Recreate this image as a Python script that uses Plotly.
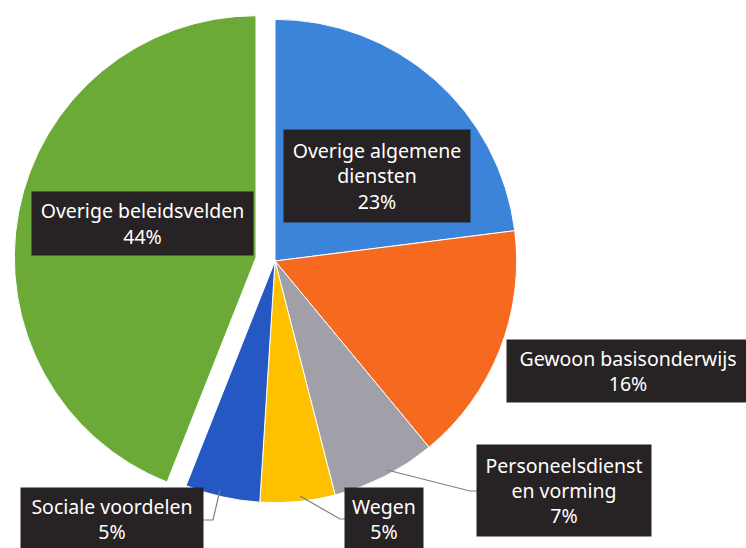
import plotly.graph_objects as go

# ---- data ----
categories = ["Overige algemene diensten", "Gewoon basisonderwijs", "Personeelsdienst en vorming",
              "Wegen", "Sociale voordelen", "Overige beleidsvelden"]
label_text = ["Overige algemene<br>diensten", "Gewoon basisonderwijs", "Personeelsdienst<br>en vorming",
              "Wegen", "Sociale voordelen", "Overige beleidsvelden"]
values = [23, 16, 7, 5, 5, 44]
colors = ["#3B84DA", "#F56A1E", "#A19FA7", "#FFC000", "#2558C2", "#6BAA36"]
pulls = [0, 0, 0, 0, 0, 0.08]

W, H = 746, 548

fig = go.Figure(go.Pie(
    labels=categories, values=values, sort=False, direction="clockwise", rotation=0,
    marker=dict(colors=colors, line=dict(color="white", width=1)),
    pull=pulls, textinfo="none", hoverinfo="label+percent",
    domain=dict(x=[14 / W, 536 / W], y=[(H - 522) / H, 1.0]),
    showlegend=False,
))

# label box geometry (pixels: center x, center y, width, height)
boxes = [(377.5, 176, 186, 92), (628, 371, 242, 62), (563.5, 490.5, 174, 91),
         (384, 519, 78, 62), (112.5, 519, 182, 62), (142, 223.5, 221, 63)]

annotations = []
for txt, v, (cx, cy, bw, bh) in zip(label_text, values, boxes):
    annotations.append(dict(
        x=cx / W, y=1 - cy / H, xref="paper", yref="paper", xanchor="center", yanchor="middle",
        text=f"{txt}<br>{v}%", showarrow=False, align="center",
        font=dict(family="Noto Sans", size=19.5, color="white"),
        bgcolor="#272223", width=bw, height=bh, borderpad=0,
    ))

def P(x, y):
    return f"{x / W:.4f} {1 - y / H:.4f}"

leaders = [
    [(387, 470), (470, 491), (477, 491)],
    [(300, 496), (340, 519), (345, 519)],
    [(220, 490), (213, 520), (203, 520)],
]
shapes = []
for pts in leaders:
    path = "M " + " L ".join(P(x, y) for x, y in pts)
    shapes.append(dict(type="path", path=path, xref="paper", yref="paper",
                       line=dict(color="#7F7F7F", width=1.2)))

fig.update_layout(
    width=W, height=H, margin=dict(l=0, r=0, t=0, b=0),
    paper_bgcolor="white", plot_bgcolor="white",
    annotations=annotations, shapes=shapes,
)

fig.write_html("out.html", config={"displayModeBar": False},
               post_script="document.body.style.margin='0';document.body.style.overflow='hidden';")
